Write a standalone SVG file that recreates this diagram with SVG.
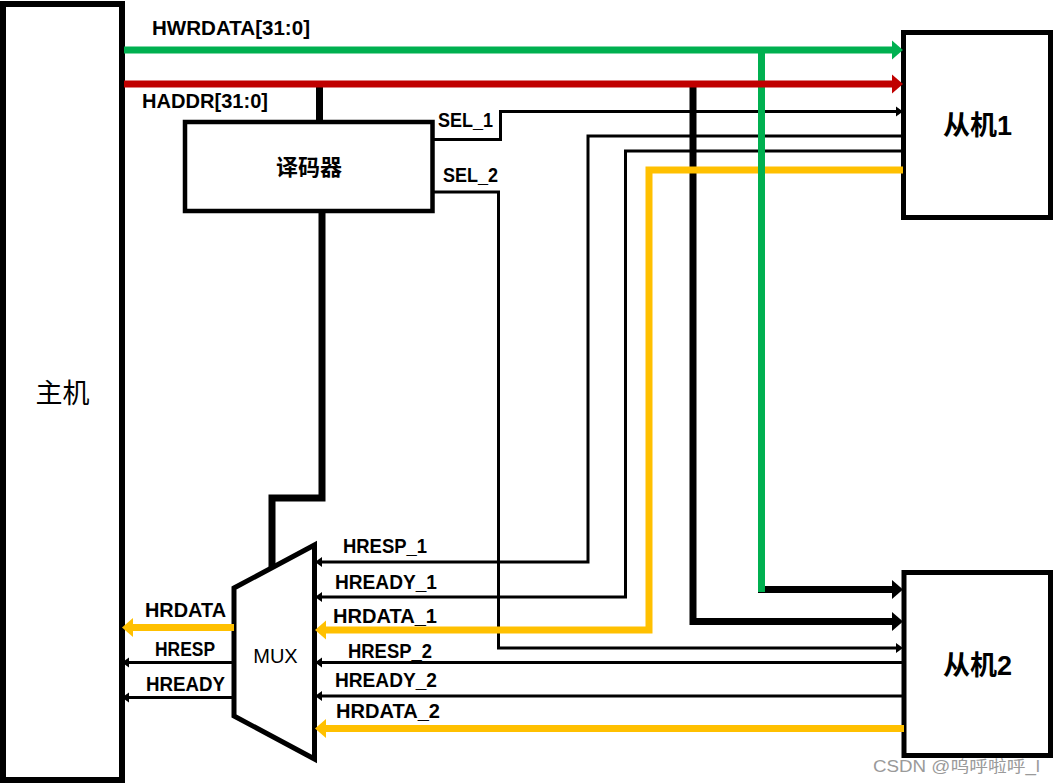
<svg xmlns="http://www.w3.org/2000/svg" width="1054" height="784" viewBox="0 0 1054 784">
<style>
.box{fill:#fff;stroke:#000}
.w{fill:none;stroke-linejoin:miter;stroke-linecap:butt}
.thin{stroke:#000;stroke-width:3}
.thick{stroke:#000;stroke-width:7}
.yel{stroke:#FFC000;stroke-width:7}
.grn{stroke:#00B050;stroke-width:7}
.red{stroke:#C00000;stroke-width:7}
.lbl{font-family:"Liberation Sans",Arial,sans-serif;font-weight:bold;font-size:20px;fill:#000}
.cjk{font-family:"Liberation Sans","Noto Sans CJK SC",sans-serif;fill:#000;text-anchor:middle}
</style>
<defs>
<marker id="aT" markerUnits="userSpaceOnUse" orient="auto" refX="1" refY="0" markerWidth="10" markerHeight="12" viewBox="0 -6 10 12" overflow="visible"><path d="M0,-5 L7,0 L0,5 z" fill="#000"/></marker>
<marker id="aK" markerUnits="userSpaceOnUse" orient="auto" refX="1" refY="0" markerWidth="12" markerHeight="20" viewBox="0 -10 12 20" overflow="visible"><path d="M0,-9.5 L11,0 L0,9.5 z" fill="#000"/></marker>
<marker id="aY" markerUnits="userSpaceOnUse" orient="auto" refX="1" refY="0" markerWidth="12" markerHeight="20" viewBox="0 -10 12 20" overflow="visible"><path d="M0,-9.5 L11,0 L0,9.5 z" fill="#FFC000"/></marker>
<marker id="aG" markerUnits="userSpaceOnUse" orient="auto" refX="1" refY="0" markerWidth="12" markerHeight="20" viewBox="0 -10 12 20" overflow="visible"><path d="M0,-9.5 L11,0 L0,9.5 z" fill="#00B050"/></marker>
<marker id="aR" markerUnits="userSpaceOnUse" orient="auto" refX="1" refY="0" markerWidth="12" markerHeight="20" viewBox="0 -10 12 20" overflow="visible"><path d="M0,-9.5 L11,0 L0,9.5 z" fill="#C00000"/></marker>
</defs>
<rect width="1054" height="784" fill="#fff"/>

<g id="master">
<rect class="box" x="3" y="4" width="119" height="776" stroke-width="6"/>
<text class="cjk" x="62.5" y="403" font-size="27">主机</text>
</g>
<g id="slave1">
<rect class="box" x="903.5" y="32.5" width="147" height="185" stroke-width="5"/>
<text class="cjk" x="977.5" y="135" font-size="27" font-weight="bold">从机1</text>
</g>
<g id="slave2">
<rect class="box" x="904" y="572.5" width="146.5" height="183" stroke-width="5"/>
<text class="cjk" x="977.5" y="675" font-size="27" font-weight="bold">从机2</text>
</g>
<g id="decoder">
<rect class="box" x="185" y="122" width="247.5" height="89" stroke-width="4.5"/>
<text class="cjk" x="309" y="175" font-size="22" font-weight="bold">译码器</text>
</g>
<g id="mux">
<polygon points="234,588 314.5,545 314.5,759 234,716" fill="#fff" stroke="#000" stroke-width="5" stroke-linejoin="miter"/>
<text x="275.5" y="663" font-family="Liberation Sans,Arial,sans-serif" font-size="20" text-anchor="middle">MUX</text>
</g>

<g id="connectors">
<!-- thin black -->
<path class="w thin" d="M432,139.5 H500.5 V111.5 H897" marker-end="url(#aT)"/>
<path class="w thin" d="M432,192 H498.5 V648 H897" marker-end="url(#aT)"/>
<path class="w thin" d="M903,136 H588 V562 H321" marker-end="url(#aT)"/>
<path class="w thin" d="M903,151 H625.5 V597 H321" marker-end="url(#aT)"/>
<path class="w thin" d="M904,662.5 H321" marker-end="url(#aT)"/>
<path class="w thin" d="M904,696 H321" marker-end="url(#aT)"/>
<path class="w thin" d="M234,662.5 H128" marker-end="url(#aT)"/>
<path class="w thin" d="M234,697.5 H128" marker-end="url(#aT)"/>
<!-- thick black -->
<path class="w thick" d="M319.5,84 V122"/>
<path class="w thick" d="M322,211 V498 H272 V568"/>
<path class="w thick" d="M693,84 V621.5 H893" marker-end="url(#aK)"/>
<path class="w thick" d="M758,589.5 H893" marker-end="url(#aK)"/>
<!-- yellow -->
<path class="w yel" d="M903,170 H649 V630 H325" marker-end="url(#aY)"/>
<path class="w yel" d="M904,728.5 H325" marker-end="url(#aY)"/>
<path class="w yel" d="M234,627.5 H132" marker-end="url(#aY)"/>
<!-- green / red -->
<path class="w grn" d="M761.5,50 V592"/>
<path class="w grn" d="M124,50 H893" marker-end="url(#aG)"/>
<path class="w red" d="M124,84 H893" marker-end="url(#aR)"/>
</g>

<g id="labels">
<text class="lbl" x="152" y="35" textLength="158" lengthAdjust="spacingAndGlyphs">HWRDATA[31:0]</text>
<text class="lbl" x="142" y="108" textLength="126" lengthAdjust="spacingAndGlyphs">HADDR[31:0]</text>
<text class="lbl" x="438" y="127" textLength="55" lengthAdjust="spacingAndGlyphs">SEL_1</text>
<text class="lbl" x="443" y="182" textLength="55" lengthAdjust="spacingAndGlyphs">SEL_2</text>
<text class="lbl" x="343" y="553" textLength="84" lengthAdjust="spacingAndGlyphs">HRESP_1</text>
<text class="lbl" x="335" y="589" textLength="102" lengthAdjust="spacingAndGlyphs">HREADY_1</text>
<text class="lbl" x="333" y="623" textLength="104" lengthAdjust="spacingAndGlyphs">HRDATA_1</text>
<text class="lbl" x="348" y="658" textLength="84" lengthAdjust="spacingAndGlyphs">HRESP_2</text>
<text class="lbl" x="335" y="687" textLength="102" lengthAdjust="spacingAndGlyphs">HREADY_2</text>
<text class="lbl" x="336" y="718" textLength="104" lengthAdjust="spacingAndGlyphs">HRDATA_2</text>
<text class="lbl" x="145" y="617" textLength="81" lengthAdjust="spacingAndGlyphs">HRDATA</text>
<text class="lbl" x="155" y="656" textLength="60" lengthAdjust="spacingAndGlyphs">HRESP</text>
<text class="lbl" x="146" y="691" textLength="79" lengthAdjust="spacingAndGlyphs">HREADY</text>
</g>
<text x="873" y="772" font-family="Liberation Sans,Noto Sans CJK SC,sans-serif" font-size="16" fill="#9a9a9a" textLength="167" lengthAdjust="spacingAndGlyphs">CSDN @呜呼啦呼_l</text>
</svg>
